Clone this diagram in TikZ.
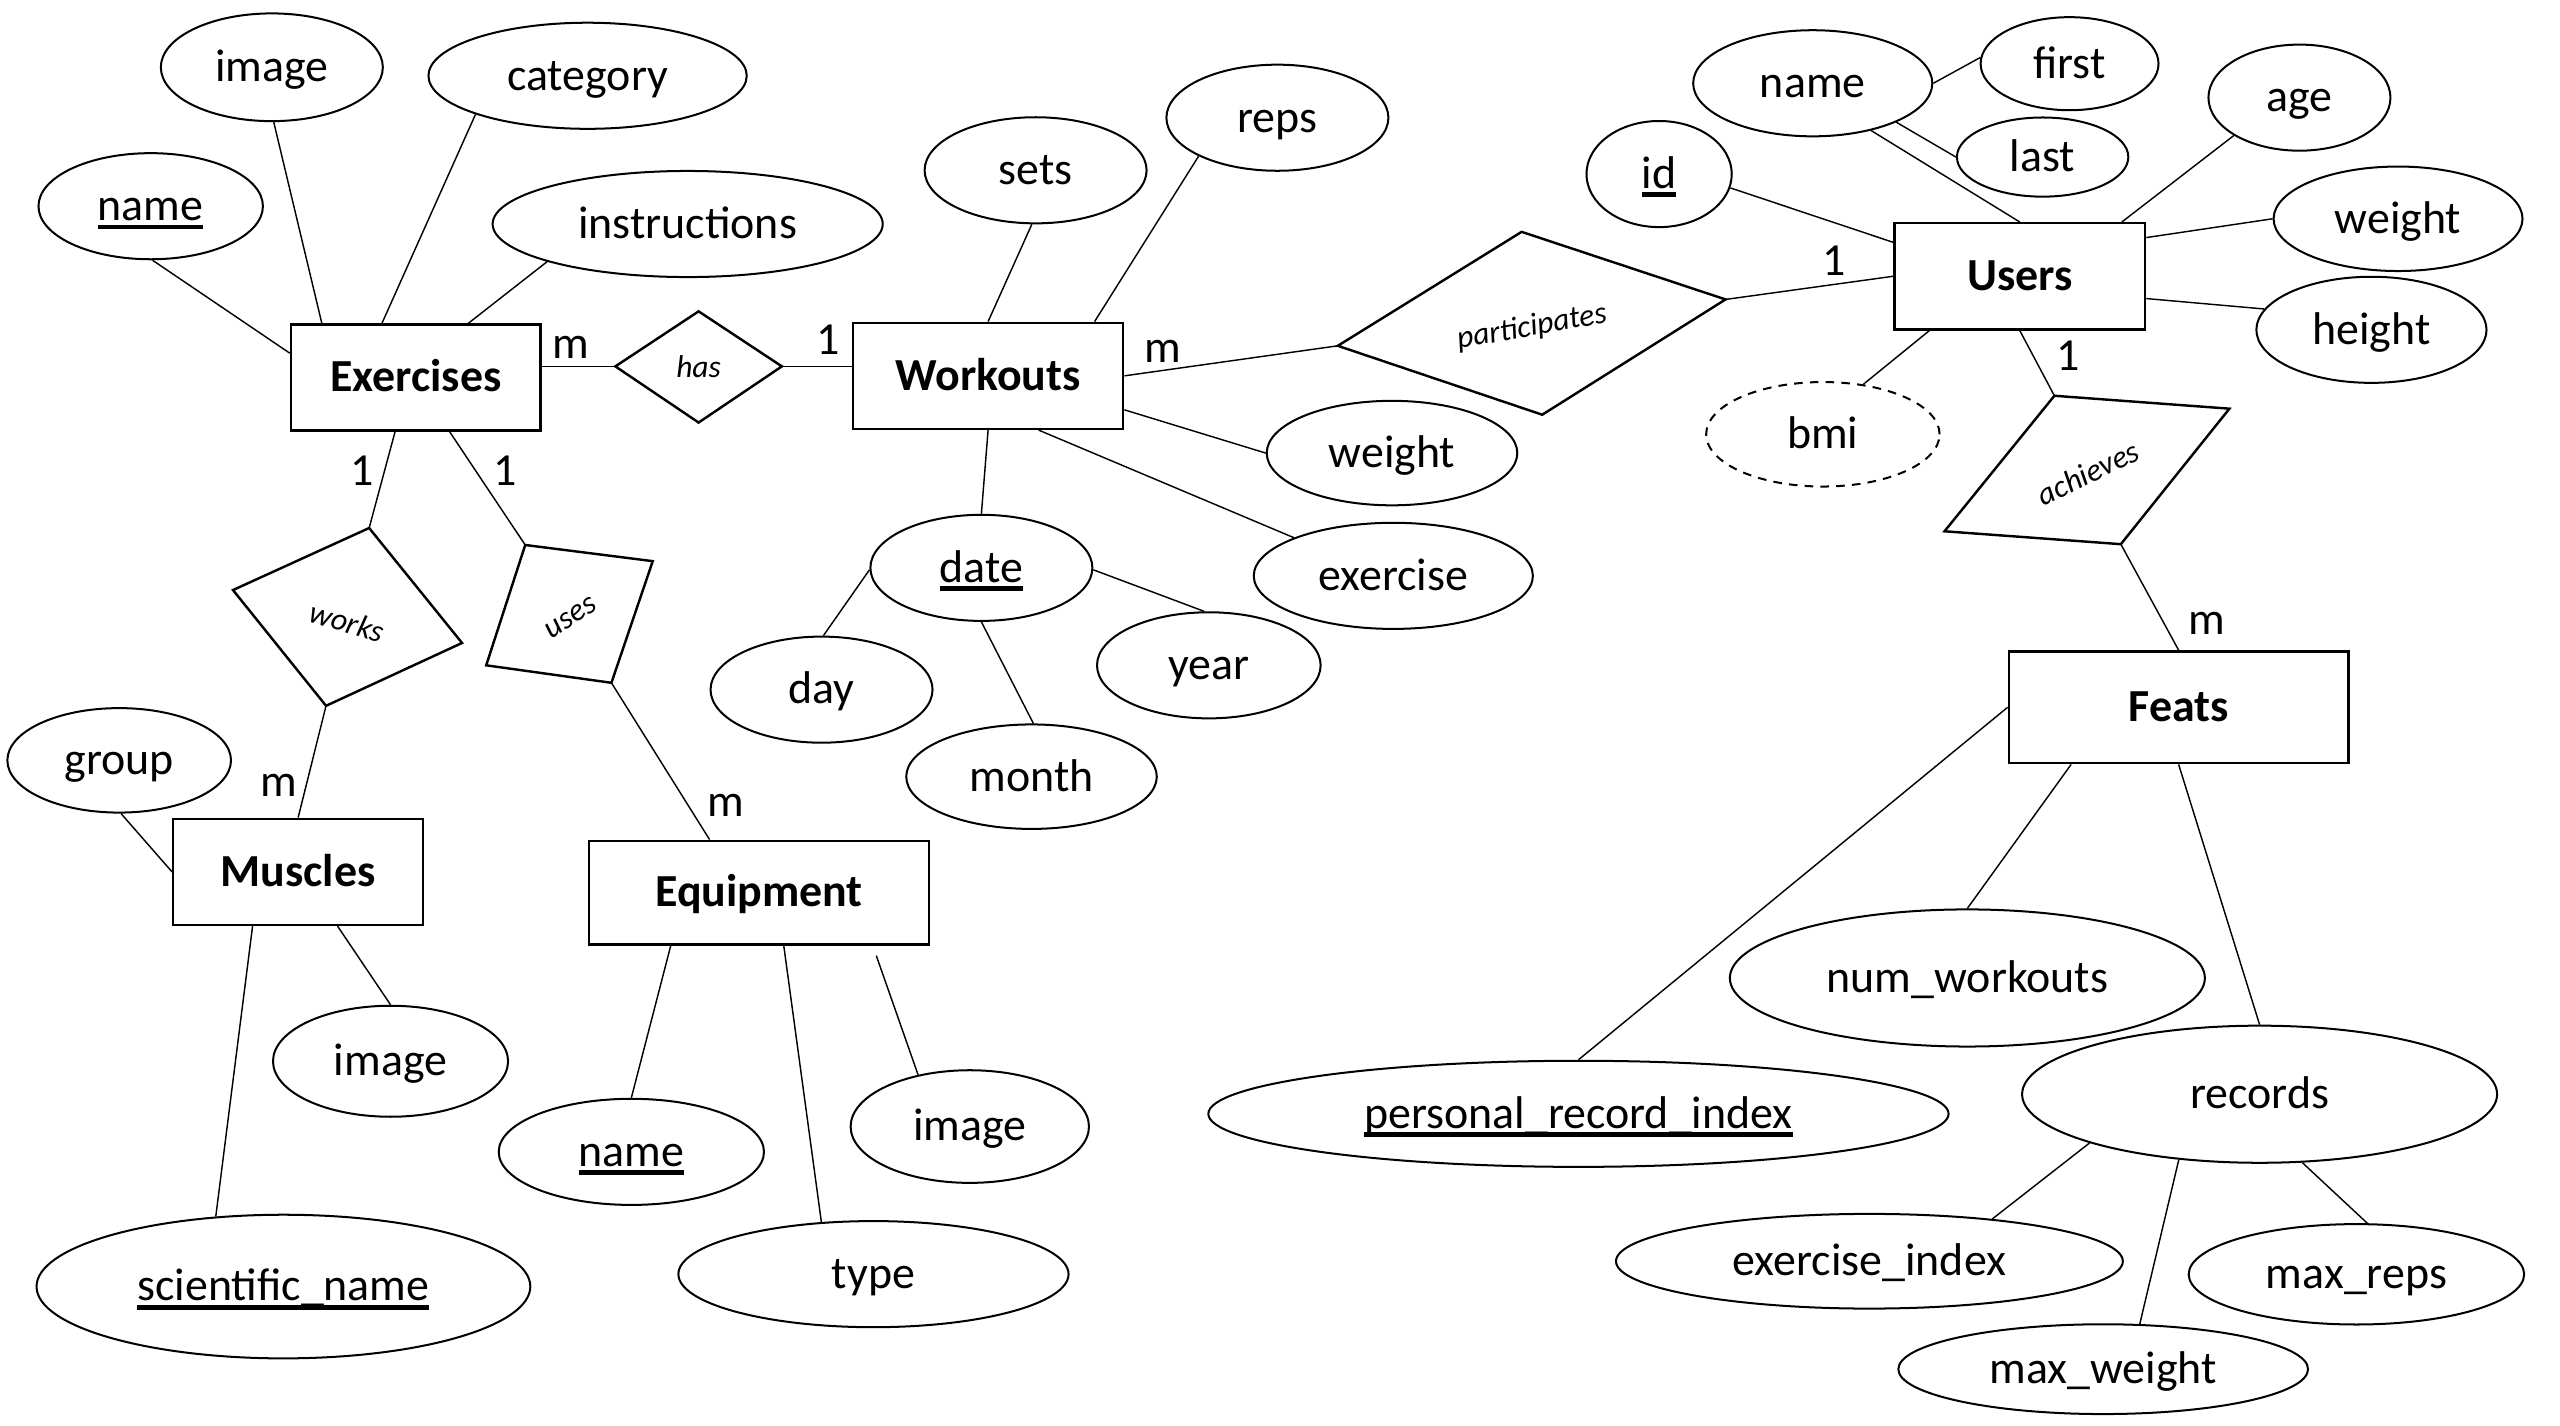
\documentclass[tikz,border=0pt]{standalone}
\usepackage{fontspec}
\setmainfont{Carlito}
\usetikzlibrary{shapes.geometric}

\newsavebox{\pkbox}
\newcommand{\pkey}[1]{\sbox{\pkbox}{#1}\rlap{\rule[-3.1pt]{\wd\pkbox}{1.7pt}}\usebox{\pkbox}}

\begin{document}
\begin{tikzpicture}[
    x=0.02cm, y=-0.02cm,
    every node/.style={font=\fontsize{16}{19}\selectfont},
    entity/.style={draw, line width=0.85pt, rectangle, font=\fontsize{16}{19}\selectfont\bfseries,
        minimum height=1.3cm, text height=12pt, text depth=2pt, inner sep=0pt},
    attr/.style={draw, line width=0.7pt, ellipse, minimum height=1.3cm,
        text height=12pt, text depth=2pt, inner sep=0pt},
    derived/.style={attr, dash pattern=on 3pt off 2.5pt},
    rel/.style={draw, line width=0.85pt},
    reltext/.style={font=\fontsize{11}{13}\selectfont\itshape, inner sep=0pt},
    link/.style={line width=0.5pt},
    card/.style={inner sep=0pt}
]

    \path[fill=white, use as bounding box] (0,0) rectangle (1568,873);

    % ---- Exercises ----
    \node[entity, minimum width=3.06cm] (ex) at (254.7,231.3) {Exercises};
    \node[attr, minimum width=2.75cm] (exname) at (92.3,126.3) {\pkey{name}};
    \node[attr, minimum width=2.72cm, minimum height=1.32cm] (eximg) at (166.5,41.2) {image};
    \node[attr, minimum width=3.9cm] (excat) at (359.9,46.4) {category};
    \node[attr, minimum width=4.78cm] (exins) at (421.2,137.2) {instructions};

    % ---- Workouts ----
    \node[entity, minimum width=3.31cm] (wo) at (605.2,230.2) {Workouts};
    \node[attr, minimum width=2.72cm] (wosets) at (634.3,104.3) {sets};
    \node[attr, minimum width=2.72cm] (woreps) at (782.4,72.1) {reps};
    \node[attr, minimum width=3.07cm, minimum height=1.28cm] (wowt) at (852.6,277.5) {weight};
    \node[attr, minimum width=3.42cm] (woex) at (853.4,352.7) {exercise};
    \node[attr, minimum width=2.72cm] (date) at (601.1,347.8) {\pkey{date}};
    \node[attr, minimum width=2.72cm] (day) at (503.2,422.4) {day};
    \node[attr, minimum width=3.07cm, minimum height=1.28cm] (month) at (631.8,475.7) {month};
    \node[attr, minimum width=2.74cm] (year) at (740.4,407.5) {year};

    % ---- Users ----
    \node[entity, minimum width=3.07cm] (us) at (1237.1,169.2) {Users};
    \node[attr, minimum width=1.78cm] (usid) at (1016.2,106.6) {\pkey{id}};
    \node[attr, minimum width=2.93cm] (usname) at (1110.3,51) {name};
    \node[attr, minimum width=2.18cm, minimum height=1.14cm] (first) at (1267.6,39) {first};
    \node[attr, minimum width=2.1cm, minimum height=0.97cm] (last) at (1251.1,96.2) {last};
    \node[attr, minimum width=2.23cm] (age) at (1408.4,59.8) {age};
    \node[attr, minimum width=3.05cm, minimum height=1.28cm] (uswt) at (1468.8,134) {weight};
    \node[attr, minimum width=2.82cm] (height) at (1452.5,202) {height};
    \node[derived, minimum width=2.86cm, minimum height=1.28cm] (bmi) at (1116.5,266) {bmi};

    % ---- Muscles ----
    \node[entity, minimum width=3.06cm] (mu) at (182.6,534) {Muscles};
    \node[attr, minimum width=2.74cm, minimum height=1.28cm] (group) at (73,465.7) {group};
    \node[attr, minimum width=2.88cm, minimum height=1.36cm] (muimg) at (239.2,650) {image};
    \node[attr, minimum width=6.05cm, minimum height=1.76cm] (sci) at (173.6,788) {\pkey{scientific\_name}};

    % ---- Equipment ----
    \node[entity, minimum width=4.17cm, minimum height=1.27cm] (eq) at (464.9,546.7) {Equipment};
    \node[attr, minimum width=3.25cm] (eqname) at (386.7,705.5) {\pkey{name}};
    \node[attr, minimum width=2.92cm, minimum height=1.38cm] (eqimg) at (594,690) {image};
    \node[attr, minimum width=4.78cm] (type) at (535,780.4) {type};

    % ---- Feats ----
    \node[entity, minimum width=4.16cm, minimum height=1.37cm] (fe) at (1334.4,433.2) {Feats};
    \node[attr, minimum width=5.82cm, minimum height=1.68cm] (num) at (1205,599) {num\_workouts};
    \node[attr, minimum width=9.07cm] (pri) at (966.8,682.2) {\pkey{personal\_record\_index}};
    \node[attr, minimum width=5.82cm, minimum height=1.68cm] (rec) at (1384,670.2) {records};
    \node[attr, minimum width=6.21cm, minimum height=1.16cm] (exidx) at (1145,772.5) {exercise\_index};
    \node[attr, minimum width=4.11cm, minimum height=1.23cm] (maxreps) at (1443.3,780.5) {max\_reps};
    \node[attr, minimum width=5.02cm, minimum height=1.1cm] (maxwt) at (1288.2,838.6) {max\_weight};

    % ---- Relationships ----
    \coordinate (hasL) at (376.9,224.4);
    \coordinate (hasT) at (427.9,190.7);
    \coordinate (hasR) at (478.9,224.4);
    \coordinate (hasB) at (427.9,258.8);
    \draw[rel] (hasL) -- (hasT) -- (hasR) -- (hasB) -- cycle;
    \node[reltext] (has) at (427.9,224.4) {has};

    \coordinate (worksT) at (226.1,323.4);
    \coordinate (worksL) at (142.7,361.4);
    \coordinate (worksB) at (199.7,432.3);
    \coordinate (worksR) at (283,393.8);
    \draw[rel] (worksT) -- (worksL) -- (worksB) -- (worksR) -- cycle;
    \node[reltext, rotate=-17] (works) at (212.7,381) {works};

    \coordinate (usesTL) at (321.7,333.8);
    \coordinate (usesTR) at (399.8,343.7);
    \coordinate (usesBR) at (374.5,418.2);
    \coordinate (usesBL) at (297.8,407.5);
    \draw[rel] (usesTL) -- (usesTR) -- (usesBR) -- (usesBL) -- cycle;
    \node[reltext, rotate=33] (uses) at (349.8,378.3) {uses};

    \coordinate (partL) at (819.4,211.8);
    \coordinate (partT) at (932,142);
    \coordinate (partR) at (1056.9,183.4);
    \coordinate (partB) at (944.6,254);
    \draw[rel] (partL) -- (partT) -- (partR) -- (partB) -- cycle;
    \node[reltext, rotate=10] (part) at (938.3,200.5) {participates};

    \coordinate (achT) at (1258.3,242.4);
    \coordinate (achR) at (1365.5,250.3);
    \coordinate (achB) at (1299,333.3);
    \coordinate (achL) at (1191,325.4);
    \draw[rel] (achT) -- (achR) -- (achB) -- (achL) -- cycle;
    \node[reltext, rotate=26] (ach) at (1278.9,289.7) {achieves};

    % ---- Links: Exercises ----
    \draw[link] (exname.-88) -- (ex.169);
    \draw[link] (eximg.-88) -- (ex.150);
    \draw[link] (excat.199) -- (ex.122);
    \draw[link] (exins.195) -- (ex.46);
    \draw[link] (ex.east |- hasL) -- (hasL);
    \draw[link] (hasR) -- (hasR -| wo.west);
    \draw[link] (ex.249) -- (worksT);
    \draw[link] (ex.-58) -- (usesTL);

    % ---- Links: Workouts ----
    \draw[link] (wosets.266) -- (wo.north);
    \draw[link] (woreps.206) -- (wo.27);
    \draw[link] (wo.east) -- (partL);
    \draw[link] (wo.-14) -- (wowt.west);
    \draw[link] (wo.-47) -- (woex.159);
    \draw[link] (wo.south) -- (date.north);
    \draw[link] (date.181) -- (day.88);
    \draw[link] (date.south) -- (month.88);
    \draw[link] (date.-1) -- (year.95);

    % ---- Links: Users ----
    \draw[link] (partR) -- (us.west);
    \draw[link] (usid.-11) -- (us.165);
    \draw[link] (usname.-39) -- (us.north);
    \draw[link] (usname.-25) -- (last.west);
    \draw[link] (usname.east) -- (first.176);
    \draw[link] (age.210) -- (us.28);
    \draw[link] (uswt.west) -- (us.17);
    \draw[link] (height.169) -- (us.-10);
    \draw[link] (bmi.51) -- (us.211);
    \draw[link] (us.south) -- (achT);
    \draw[link] (achB) -- (fe.north);

    % ---- Links: Muscles / Equipment ----
    \draw[link] (worksB) -- (mu.north);
    \draw[link] (group.-88) -- (mu.west);
    \draw[link] (mu.-54) -- (muimg.north);
    \draw[link] (mu.230) -- (sci.134);
    \draw[link] (usesBR) -- (eq.133);
    \draw[link] (eq.211) -- (eqname.north);
    \draw[link] (eq.-65) -- (type.135);
    \draw[link, shorten <=1.3mm] (eq.-25) -- (eqimg.135);

    % ---- Links: Feats ----
    \draw[link] (fe.west) -- (pri.north);
    \draw[link] (fe.208) -- (num.north);
    \draw[link] (fe.south) -- (rec.north);
    \draw[link] (rec.196) -- (exidx.19);
    \draw[link] (rec.219) -- (maxwt.51);
    \draw[link] (rec.-58) -- (maxreps.78);

    % ---- Cardinalities ----
    \node[card] (exhas) at (349.8,212.9) {m};
    \node[card] (hasex) at (507.4,208) {1};
    \node[card] (exworks) at (221.5,288.3) {1};
    \node[card] (exuses) at (309.4,288.3) {1};
    \node[card] (muworks) at (170.7,481.2) {m};
    \node[card] (equses) at (444.7,493.4) {m};
    \node[card] (wopart) at (712.2,215.2) {m};
    \node[card] (uspart) at (1123.6,159.5) {1};
    \node[card] (usach) at (1266.9,218) {1};
    \node[card] (feach) at (1351.5,382) {m};

\end{tikzpicture}
\end{document}
